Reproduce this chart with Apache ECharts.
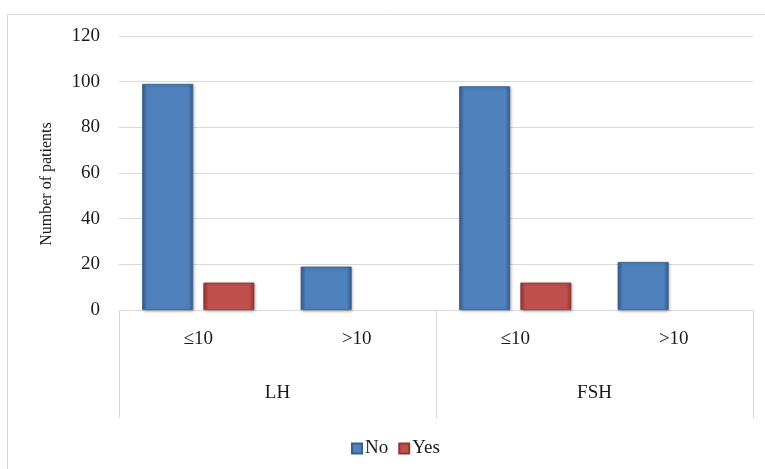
<!DOCTYPE html>
<html>
<head>
<meta charset="utf-8">
<script src="https://cdn.jsdelivr.net/npm/echarts@6/dist/echarts.min.js"></script>
<style>html,body{margin:0;padding:0;background:#fff;}#c{width:765px;height:469px;}</style>
</head>
<body>
<div id="c"></div>
<script>
var subCategories = ['≤10', '>10', '≤10', '>10'];
var groups = ['LH', 'FSH'];
var seriesNames = ['No', 'Yes'];
var noValues = [99, 19, 98, 21];
var yesValues = [12, 0, 12, 0];
var yTicks = { min: 0, max: 120, interval: 20 };

var font = 'Liberation Serif';
function grad(edge, mid) {
  return new echarts.graphic.LinearGradient(0, 0, 1, 0, [
    { offset: 0, color: edge }, { offset: 0.1, color: mid },
    { offset: 0.9, color: mid }, { offset: 1, color: edge }
  ]);
}
function hideZero(arr) { return arr.map(function (v) { return v === 0 ? '-' : v; }); }
var chart = echarts.init(document.getElementById('c'), null, { renderer: 'canvas' });
chart.setOption({
  backgroundColor: '#fff',
  animation: false,
  graphic: [{
    type: 'rect', shape: { x: 7.5, y: 14.5, width: 800, height: 500 },
    style: { fill: 'none', stroke: '#d9d9d9', lineWidth: 1 }, silent: true, z: -1
  }],
  grid: { left: 119, right: 12, top: 36, bottom: 159 },
  legend: {
    data: seriesNames, top: 434, left: 346,
    itemWidth: 10, itemHeight: 10, itemGap: 10, icon: 'rect',
    textStyle: { fontFamily: font, fontSize: 19, color: '#1a1a1a', padding: [0, 0, 0, -2] }
  },
  xAxis: [{
    type: 'category', data: subCategories, position: 'bottom',
    axisLine: { show: true, lineStyle: { color: '#d9d9d9' } },
    axisTick: { show: false },
    axisLabel: { margin: 20, fontFamily: font, fontSize: 19, color: '#1a1a1a' }
  }, {
    type: 'category', data: groups, position: 'bottom',
    axisLine: { show: false },
    axisTick: { show: true, length: 108, interval: 0, lineStyle: { color: '#d9d9d9' } },
    axisLabel: { margin: 74, fontFamily: font, fontSize: 19, color: '#1a1a1a' },
    splitLine: { show: false }
  }],
  yAxis: {
    type: 'value', min: yTicks.min, max: yTicks.max, interval: yTicks.interval,
    name: 'Number of patients', nameLocation: 'middle', nameGap: 64,
    nameTextStyle: { fontFamily: font, fontSize: 16, color: '#1a1a1a', padding: [0, 22, 0, 0] },
    axisLine: { show: false }, axisTick: { show: false },
    axisLabel: { margin: 19, fontFamily: font, fontSize: 19, color: '#1a1a1a' },
    splitLine: { lineStyle: { color: '#d9d9d9' } }
  },
  series: [{
    name: 'No', type: 'bar', data: hideZero(noValues), xAxisIndex: 0,
    barWidth: 51, barGap: '20%',
    itemStyle: {
      color: grad('#385d8a', '#4f81bd'),
      borderColor: '#3a5f8c', borderWidth: 0.8,
      shadowColor: 'rgba(0,0,0,0.3)', shadowBlur: 3, shadowOffsetX: 1, shadowOffsetY: 1
    }
  }, {
    name: 'Yes', type: 'bar', data: hideZero(yesValues), xAxisIndex: 0,
    barWidth: 51, barGap: '20%',
    itemStyle: {
      color: grad('#943634', '#c0504d'),
      borderColor: '#8c3836', borderWidth: 0.8,
      shadowColor: 'rgba(0,0,0,0.3)', shadowBlur: 3, shadowOffsetX: 1, shadowOffsetY: 1
    }
  }]
});
</script>
</body>
</html>
